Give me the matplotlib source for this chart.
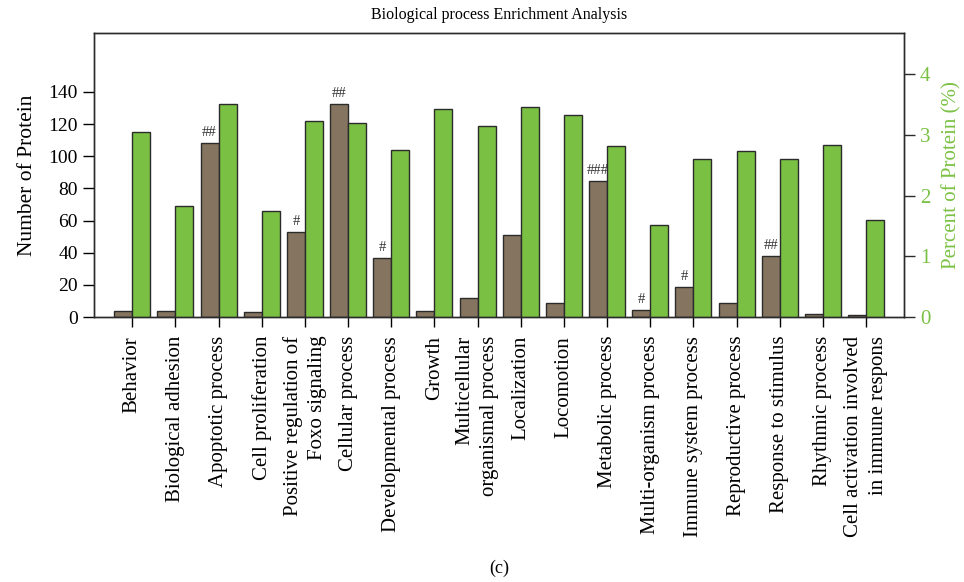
import matplotlib
matplotlib.use("Agg")
import matplotlib.pyplot as plt
import numpy as np

categories = ["Behavior", "Biological adhesion", "Apoptotic process", "Cell proliferation",
              "Positive regulation of\nFoxo signaling", "Cellular process", "Developmental process",
              "Growth", "Multicellular\norganismal process", "Localization", "Locomotion",
              "Metabolic process", "Multi-organism process", "Immune system process",
              "Reproductive process", "Response to stimulus", "Rhythmic process",
              "Cell activation involved\nin immune respons"]
num_protein = [4, 4, 108, 3, 53, 132.5, 37, 3.5, 11.6, 51, 8.5, 84.4, 4.1, 18.9, 8.5, 37.7, 1.7, 1.0]
pct_protein = [3.05, 1.83, 3.51, 1.75, 3.22, 3.19, 2.75, 3.43, 3.14, 3.45, 3.33, 2.82, 1.51,
               2.60, 2.73, 2.60, 2.83, 1.60]
marks = ["", "", "##", "", "#", "##", "#", "", "", "", "", "###", "#", "#", "", "##", "", ""]

brown = "#857560"
green = "#7ac143"
edge = "#2b2b2b"

plt.rcParams['font.family'] = ['Liberation Serif', 'DejaVu Serif']

fig = plt.figure(figsize=(9.64, 5.82), dpi=100)
ax = fig.add_axes([0.0975, 0.4553, 0.8403, 0.488])
ax2 = ax.twinx()

x = np.arange(len(categories))
w = 0.417
ax.bar(x - w / 2, num_protein, width=w, color=brown, edgecolor=edge, linewidth=1)
ax2.bar(x + w / 2, pct_protein, width=w, color=green, edgecolor=edge, linewidth=1)

for i, m in enumerate(marks):
    if m:
        ax.text(x[i] - w / 2, num_protein[i] + 2.5, m, ha="center", va="bottom",
                fontsize=10.5, color="#333333")

ax.set_xlim(-0.887, 17.88)
ax.set_ylim(0, 176.7)
ax2.set_ylim(0, 4.675)

ax.set_yticks(range(0, 141, 20))
ax2.set_yticks(range(0, 5))
ax.set_xticks(x)
ax.set_xticklabels(categories, rotation=90, ha="center", va="top", multialignment="right",
                   fontsize=15, linespacing=1.4)

ax.tick_params(axis="y", labelsize=14, length=8, width=1)
ax.tick_params(axis="x", length=7.5, width=1, pad=6)
ax2.tick_params(axis="y", labelsize=15, length=8, width=1, colors=green)
for a in (ax, ax2):
    for s in a.spines.values():
        s.set_linewidth(1)
        s.set_color(edge)
ax2.tick_params(axis="y", color=edge)

ax.set_ylabel("Number of Protein", fontsize=15.5, labelpad=8)
ax2.set_ylabel("Percent of Protein (%)", fontsize=15, color=green, labelpad=8)

fig.text(0.5178, 0.975, "Biological process Enrichment Analysis", ha="center", va="center",
         fontsize=11.5)
fig.text(0.5178, 0.024, "(c)", ha="center", va="center", fontsize=13)

fig.savefig("out.png", dpi=100)
